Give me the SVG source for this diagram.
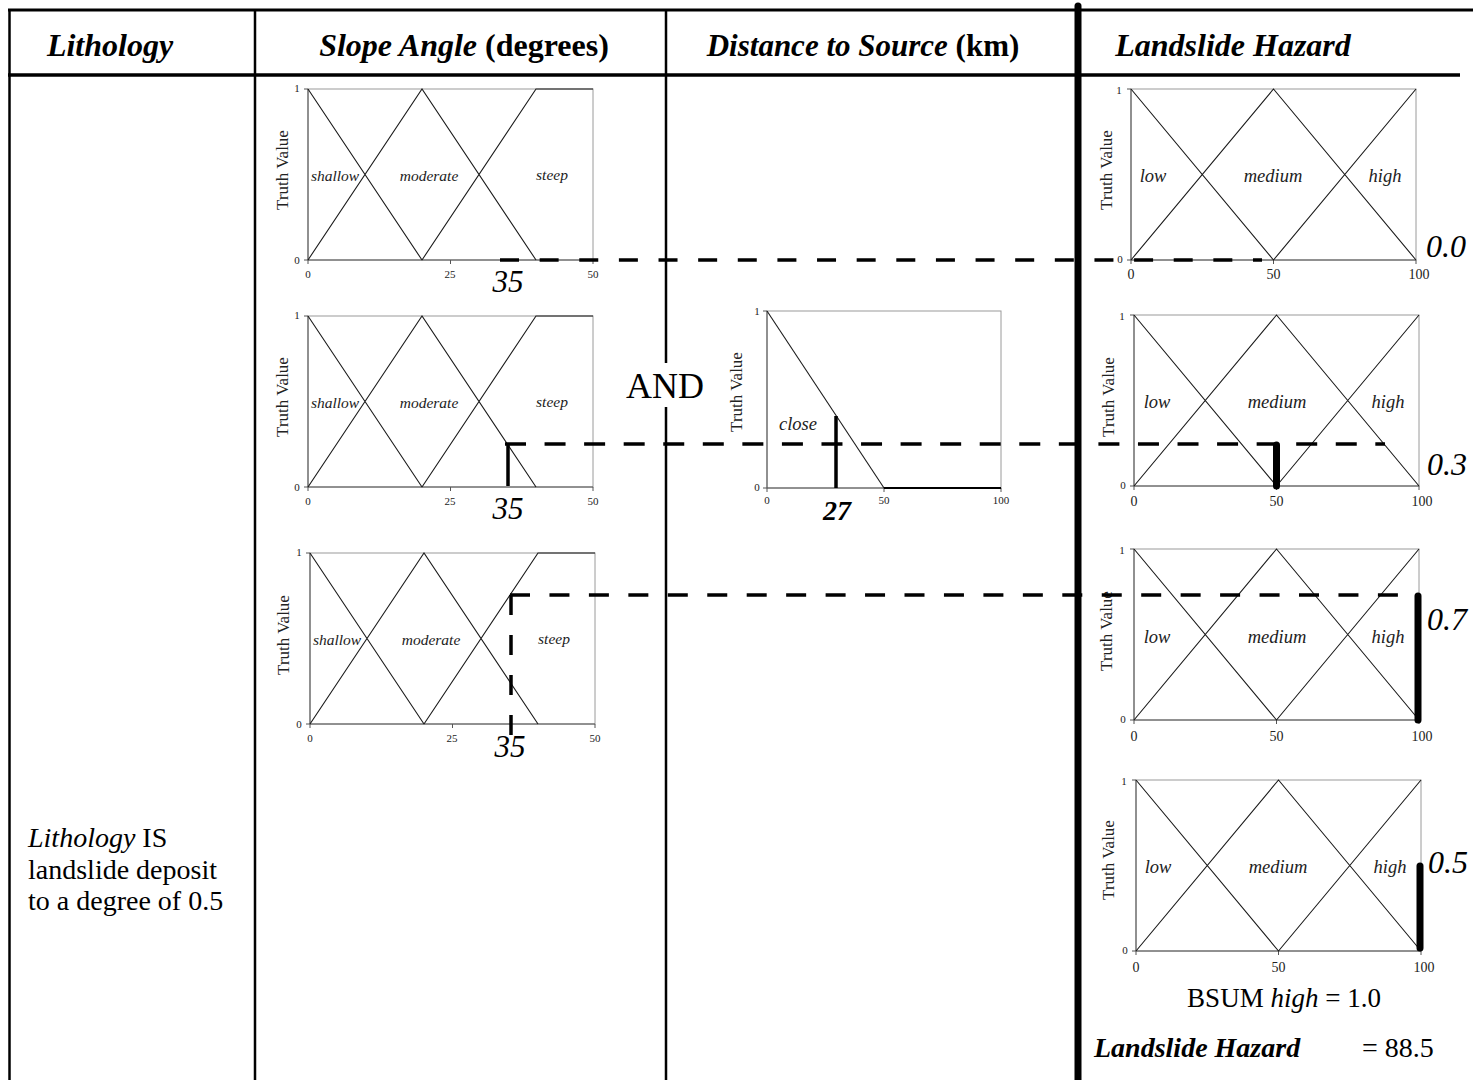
<svg xmlns="http://www.w3.org/2000/svg" xmlns:xlink="http://www.w3.org/1999/xlink" width="1473" height="1080" viewBox="0 0 1473 1080">
<style>
text{font-family:"Liberation Serif","Times New Roman",serif;fill:#000}
.hdr{font-size:32px;font-weight:bold}
.hdr2{font-size:31px;font-weight:bold}
.it{font-style:italic}
.tbl{stroke:#000;fill:none}
.frame{fill:none;stroke:#9a9a9a;stroke-width:1}
.axis{stroke:#555;stroke-width:1;fill:none}
.mf{fill:none;stroke:#1a1a1a;stroke-width:1.1}
.tk{font-size:11px;fill:#222;text-anchor:middle}
.tkh{font-size:14px;fill:#222;text-anchor:middle}
.tv{font-size:17px;text-anchor:middle;fill:#222}
.sl{font-size:15.5px;font-style:italic;text-anchor:middle;fill:#222}
.hl{font-size:18.5px;font-style:italic;text-anchor:middle;fill:#222}
.big{font-size:31px;font-style:italic;text-anchor:middle}
.val{font-size:32px;font-style:italic}
.dash{stroke:#000;stroke-width:3.5;fill:none}
.bar{stroke:#000;stroke-width:7;stroke-linecap:round}
.bar2{stroke:#000;stroke-width:3.5}
</style>
<defs>
<g id="slopeAxes">
<rect class="frame" x="0" y="-171" width="285" height="171"/>
<path class="axis" d="M0,-171V0H285M-4,-171H0M-4,0H0M0,0V4M142.5,0V4M285,0V4"/>
<path class="mf" d="M0,-171L114,0M0,0L114,-171L228,0M114,0L228,-171L285,-171"/>
</g>
<g id="hazAxes">
<rect class="frame" x="0" y="-171" width="285" height="171"/>
<path class="axis" d="M0,-171V0H285M-4,-171H0M-4,0H0M0,0V4M142.5,0V4M285,0V4"/>
<path class="mf" d="M0,-171L142.5,0L285,-171M0,0L142.5,-171L285,0"/>
</g>
</defs>

<g id="table">
<line class="tbl" x1="8" y1="10" x2="1473" y2="10" stroke-width="3"/>
<line class="tbl" x1="8" y1="75" x2="1460" y2="75" stroke-width="3.5"/>
<line class="tbl" x1="9.5" y1="9" x2="9.5" y2="1080" stroke-width="2.5"/>
<line class="tbl" x1="255" y1="9" x2="255" y2="1080" stroke-width="2.5"/>
<line class="tbl" x1="666" y1="9" x2="666" y2="363" stroke-width="2.5"/>
<line class="tbl" x1="666" y1="407" x2="666" y2="1080" stroke-width="2.5"/>
<line class="tbl" x1="1078" y1="6" x2="1078" y2="1080" stroke-width="7" stroke-linecap="round"/>
</g>

<g id="headers">
<text class="hdr it" x="110" y="56" text-anchor="middle">Lithology</text>
<text class="hdr" x="464" y="56" text-anchor="middle"><tspan font-style="italic">Slope Angle</tspan> (degrees)</text>
<text class="hdr2" x="863" y="56" text-anchor="middle"><tspan font-style="italic">Distance to Source</tspan> (km)</text>
<text class="hdr it" x="1233" y="56" text-anchor="middle">Landslide Hazard</text>
</g>

<g id="lithology-text">
<text x="28" y="847" font-size="28"><tspan font-style="italic">Lithology</tspan> IS</text>
<text x="28" y="879" font-size="28">landslide deposit</text>
<text x="28" y="910" font-size="28">to a degree of 0.5</text>
</g>

<g id="slope-1" transform="translate(308,260)">
<use href="#slopeAxes"/>
<text class="tk" x="-11" y="-168">1</text><text class="tk" x="-11" y="4">0</text>
<text class="tk" x="0" y="18">0</text><text class="tk" x="142" y="18">25</text><text class="tk" x="285" y="18">50</text>
<text class="tv" transform="translate(-20,-90) rotate(-90)">Truth Value</text>
<text class="sl" x="27" y="-79">shallow</text><text class="sl" x="121" y="-79">moderate</text><text class="sl" x="244" y="-80">steep</text>
<text class="big" x="200" y="32">35</text>
</g>

<g id="slope-2" transform="translate(308,487)">
<use href="#slopeAxes"/>
<text class="tk" x="-11" y="-168">1</text><text class="tk" x="-11" y="4">0</text>
<text class="tk" x="0" y="18">0</text><text class="tk" x="142" y="18">25</text><text class="tk" x="285" y="18">50</text>
<text class="tv" transform="translate(-20,-90) rotate(-90)">Truth Value</text>
<text class="sl" x="27" y="-79">shallow</text><text class="sl" x="121" y="-79">moderate</text><text class="sl" x="244" y="-80">steep</text>
<line class="bar2" x1="200" y1="-43" x2="200" y2="-1"/>
<text class="big" x="200" y="32">35</text>
</g>

<g id="slope-3" transform="translate(310,724)">
<use href="#slopeAxes"/>
<text class="tk" x="-11" y="-168">1</text><text class="tk" x="-11" y="4">0</text>
<text class="tk" x="0" y="18">0</text><text class="tk" x="142" y="18">25</text><text class="tk" x="285" y="18">50</text>
<text class="tv" transform="translate(-21,-89) rotate(-90)">Truth Value</text>
<text class="sl" x="27" y="-79">shallow</text><text class="sl" x="121" y="-79">moderate</text><text class="sl" x="244" y="-80">steep</text>
<text class="big" x="200" y="33">35</text>
</g>

<g id="and-label">
<text x="665" y="398" font-size="36" text-anchor="middle">AND</text>
</g>

<g id="distance" transform="translate(767,488)">
<rect class="frame" x="0" y="-177" width="234" height="177"/>
<path class="axis" d="M0,-177V0H234M-4,-177H0M-4,0H0M0,0V4M117,0V4M234,0V4"/>
<path class="mf" d="M0,-177L117,0"/>
<path d="M117,0H234" stroke="#000" stroke-width="2" fill="none"/>
<text class="tk" x="-10" y="-173">1</text><text class="tk" x="-10" y="3">0</text>
<text class="tk" x="0" y="16">0</text><text class="tk" x="117" y="16">50</text><text class="tk" x="234" y="16">100</text>
<text class="tv" transform="translate(-25,-96) rotate(-90)">Truth Value</text>
<text class="hl" x="31" y="-58">close</text>
<line class="bar2" x1="69" y1="-72" x2="69" y2="0"/>
<text x="70" y="32" font-size="28" font-weight="bold" font-style="italic" text-anchor="middle">27</text>
</g>

<g id="hazard-1" transform="translate(1131,260)">
<use href="#hazAxes"/>
<text class="tk" x="-12" y="-166">1</text><text class="tk" x="-11" y="3">0</text>
<text class="tkh" x="0" y="19">0</text><text class="tkh" x="142.5" y="19">50</text><text class="tkh" x="288" y="19">100</text>
<text class="tv" transform="translate(-19,-90) rotate(-90)">Truth Value</text>
<text class="hl" x="22" y="-78">low</text><text class="hl" x="142" y="-78">medium</text><text class="hl" x="254" y="-78">high</text>
<text class="val" x="295" y="-3">0.0</text>
</g>

<g id="hazard-2" transform="translate(1134,486)">
<use href="#hazAxes"/>
<text class="tk" x="-12" y="-166">1</text><text class="tk" x="-11" y="3">0</text>
<text class="tkh" x="0" y="20">0</text><text class="tkh" x="142.5" y="20">50</text><text class="tkh" x="288" y="20">100</text>
<text class="tv" transform="translate(-20,-89) rotate(-90)">Truth Value</text>
<text class="hl" x="23" y="-78">low</text><text class="hl" x="143" y="-78">medium</text><text class="hl" x="254" y="-78">high</text>
<line class="bar" x1="142.5" y1="-41" x2="142.5" y2="0"/>
<text class="val" x="293" y="-11">0.3</text>
</g>

<g id="hazard-3" transform="translate(1134,720)">
<use href="#hazAxes"/>
<text class="tk" x="-12" y="-166">1</text><text class="tk" x="-11" y="3">0</text>
<text class="tkh" x="0" y="21">0</text><text class="tkh" x="142.5" y="21">50</text><text class="tkh" x="288" y="21">100</text>
<text class="tv" transform="translate(-22,-89) rotate(-90)">Truth Value</text>
<text class="hl" x="23" y="-77">low</text><text class="hl" x="143" y="-77">medium</text><text class="hl" x="254" y="-77">high</text>
<line class="bar" x1="284" y1="-124" x2="284" y2="0"/>
<text class="val" x="293" y="-90">0.7</text>
</g>

<g id="hazard-4" transform="translate(1136,951)">
<use href="#hazAxes"/>
<text class="tk" x="-12" y="-166">1</text><text class="tk" x="-11" y="3">0</text>
<text class="tkh" x="0" y="21">0</text><text class="tkh" x="142.5" y="21">50</text><text class="tkh" x="288" y="21">100</text>
<text class="tv" transform="translate(-22,-91) rotate(-90)">Truth Value</text>
<text class="hl" x="22" y="-78">low</text><text class="hl" x="142" y="-78">medium</text><text class="hl" x="254" y="-78">high</text>
<line class="bar" x1="284" y1="-85" x2="284" y2="-3"/>
<text class="val" x="292" y="-78">0.5</text>
</g>

<g id="result">
<text x="1284" y="1007" font-size="27" text-anchor="middle">BSUM <tspan font-style="italic">high</tspan> = 1.0</text>
<text x="1094" y="1057" font-size="28" font-weight="bold" font-style="italic">Landslide Hazard</text>
<text x="1362" y="1057" font-size="28">= 88.5</text>
</g>

<g id="connectors">
<line class="dash" x1="500" y1="260" x2="1262" y2="260" stroke-dasharray="19 20.63"/>
<line class="dash" x1="505" y1="444" x2="1385" y2="444" stroke-dasharray="21 18.56"/>
<line class="dash" x1="510" y1="595" x2="1398" y2="595" stroke-dasharray="20 19.45"/>
<line class="dash" x1="511" y1="595" x2="511" y2="736" stroke-dasharray="20 20"/>
</g>
</svg>
